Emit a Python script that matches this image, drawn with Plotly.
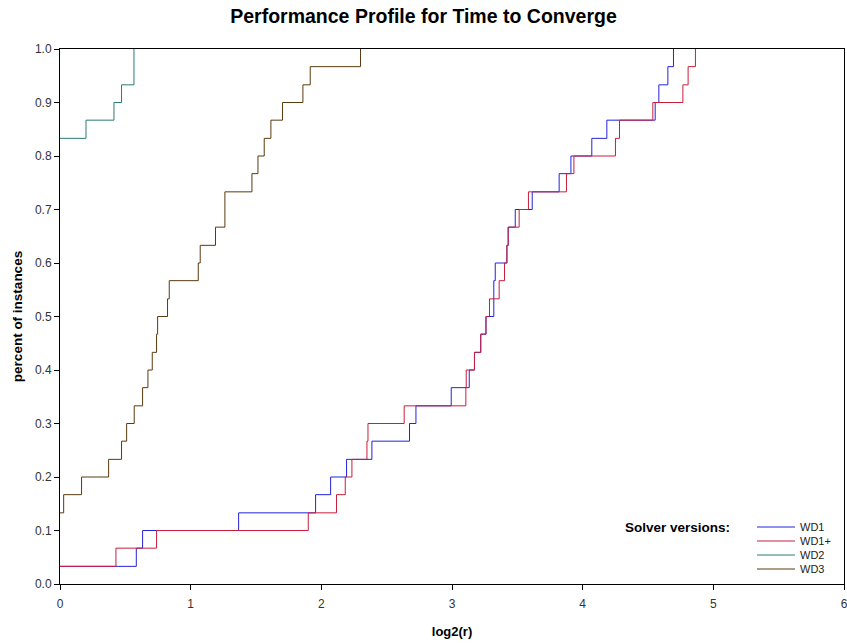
import plotly.graph_objects as go

# Step change points: log2(r) where the profile rises, and the fraction reached there
wd1_x = [0, 0.584, 0.632, 1.367, 1.956, 2.071, 2.193, 2.387, 2.675, 2.724, 2.994, 3.132, 3.172,
         3.22, 3.26, 3.32, 3.331, 3.42, 3.43, 3.484, 3.614, 3.82, 3.91, 4.07, 4.185, 4.555,
         4.583, 4.652, 4.695]
wd1_y = [0.033, 0.067, 0.1, 0.133, 0.167, 0.2, 0.233, 0.267, 0.3, 0.333, 0.367, 0.4, 0.433,
         0.467, 0.5, 0.567, 0.6, 0.633, 0.667, 0.7, 0.733, 0.767, 0.8, 0.833, 0.867, 0.9,
         0.933, 0.967, 1.0]

wd1p_x = [0, 0.428, 0.739, 1.9, 2.116, 2.183, 2.234, 2.349, 2.357, 2.634, 3.106, 3.109, 3.172,
          3.22, 3.26, 3.287, 3.361, 3.402, 3.42, 3.43, 3.514, 3.585, 3.876, 3.933, 4.251,
          4.282, 4.537, 4.767, 4.807, 4.863]
wd1p_y = [0.033, 0.067, 0.1, 0.133, 0.167, 0.2, 0.233, 0.267, 0.3, 0.333, 0.367, 0.4, 0.433,
          0.467, 0.5, 0.533, 0.567, 0.6, 0.633, 0.667, 0.7, 0.733, 0.767, 0.8, 0.833,
          0.867, 0.9, 0.933, 0.967, 1.0]

wd2_x = [0, 0.199, 0.413, 0.471, 0.566]
wd2_y = [0.833, 0.867, 0.9, 0.933, 1.0]

wd3_x = [0, 0.028, 0.165, 0.372, 0.471, 0.51, 0.568, 0.632, 0.673, 0.706, 0.739, 0.747, 0.823,
         0.836, 1.058, 1.073, 1.19, 1.262, 1.469, 1.515, 1.563, 1.614, 1.703, 1.859, 1.915, 2.3]
wd3_y = [0.133, 0.167, 0.2, 0.233, 0.267, 0.3, 0.333, 0.367, 0.4, 0.433, 0.467, 0.5, 0.533,
         0.567, 0.6, 0.633, 0.667, 0.733, 0.767, 0.8, 0.833, 0.867, 0.9, 0.933, 0.967, 1.0]

series_names = ["WD1", "WD1+", "WD2", "WD3"]
series_colors = ["#2323dc", "#c81e3c", "#2a7d70", "#5a3a0e"]
series_x = [wd1_x, wd1p_x, wd2_x, wd3_x]
series_y = [wd1_y, wd1p_y, wd2_y, wd3_y]

x_ticks = [0, 1, 2, 3, 4, 5, 6]
y_ticks = [0.0, 0.1, 0.2, 0.3, 0.4, 0.5, 0.6, 0.7, 0.8, 0.9, 1.0]
legend_title = "Solver versions:"

FONT = "Liberation Sans, Arial, sans-serif"
W, H = 847, 643
ML, MR, MT, MB = 60, 3, 49, 59
PW, PH = W - ML - MR, H - MT - MB


def px_to_paper_x(px):
    return (px - ML) / PW


def px_to_paper_y(py):
    return (H - MB - py) / PH


fig = go.Figure()
for name, color, xs, ys in zip(series_names, series_colors, series_x, series_y):
    fig.add_trace(go.Scatter(
        x=xs, y=ys, mode="lines", name=name,
        line=dict(color=color, width=1, shape="hv"),
        showlegend=False,
    ))

# Compact legend (SAS-style), built as layout decorations
shapes = []
annotations = []
leg_top = 527
leg_step = 14
for i, (name, color) in enumerate(zip(series_names, series_colors)):
    yy = px_to_paper_y(leg_top + i * leg_step)
    shapes.append(dict(type="line", xref="paper", yref="paper",
                       x0=px_to_paper_x(757), x1=px_to_paper_x(795), y0=yy, y1=yy,
                       line=dict(color=color, width=1)))
    annotations.append(dict(xref="paper", yref="paper", x=px_to_paper_x(798), y=yy,
                            xanchor="left", yanchor="middle", showarrow=False,
                            text=name, font=dict(family=FONT, size=11, color="#222222")))
annotations.append(dict(xref="paper", yref="paper", x=px_to_paper_x(732),
                        y=px_to_paper_y(leg_top), xanchor="right", yanchor="middle",
                        showarrow=False, text=f"<b>{legend_title}</b>",
                        font=dict(family=FONT, size=13.5, color="black")))

fig.update_layout(
    width=W, height=H,
    margin=dict(l=ML, r=MR, t=MT, b=MB, autoexpand=False),
    paper_bgcolor="white", plot_bgcolor="white",
    font=dict(family=FONT, size=12, color="#222222"),
    title=dict(text="<b>Performance Profile for Time to Converge</b>",
               x=0.5, xanchor="center", y=1 - 16 / H, yanchor="middle",
               font=dict(family=FONT, size=19.5, color="black")),
    showlegend=False,
    shapes=shapes,
    annotations=annotations,
    xaxis=dict(
        range=[0, 6], tickvals=x_ticks, ticktext=[str(v) for v in x_ticks],
        showgrid=False, zeroline=False,
        showline=True, linecolor="black", linewidth=1, mirror=True,
        ticks="outside", ticklen=5, tickcolor="black",
        ticklabelstandoff=4, ticklabeloverflow="allow",
        tickfont=dict(family=FONT, size=12, color="#333333"),
        title=dict(text="<b>log2(r)</b>", standoff=16,
                   font=dict(family=FONT, size=13, color="black")),
    ),
    yaxis=dict(
        range=[0, 1], tickvals=y_ticks, ticktext=[f"{v:.1f}" for v in y_ticks],
        showgrid=False, zeroline=False,
        showline=True, linecolor="black", linewidth=1, mirror=True,
        ticks="outside", ticklen=5, tickcolor="black",
        ticklabeloverflow="allow",
        tickfont=dict(family=FONT, size=12, color="#333333"),
        title=dict(text="<b>percent of instances</b>", standoff=9,
                   font=dict(family=FONT, size=13.5, color="black")),
    ),
)

fig.write_html("out.html",
               config={"displayModeBar": False},
               post_script="document.body.style.margin='0';document.body.style.overflow='hidden';")
